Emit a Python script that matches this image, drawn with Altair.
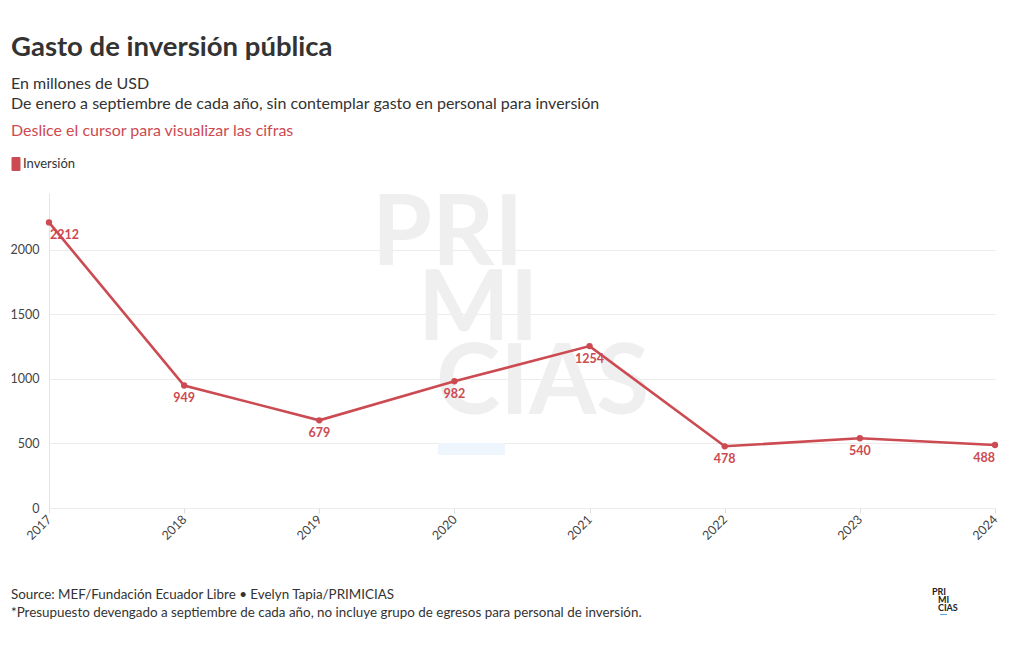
import altair as alt
import pandas as pd

years = ["2017", "2018", "2019", "2020", "2021", "2022", "2023", "2024"]
values = [2212, 949, 679, 982, 1254, 478, 540, 488]
series = "Inversión"
label_align = ["left", "center", "center", "center", "center", "center", "center", "right"]

RED = "#cc4a51"
FONT = "Lato"

df = pd.DataFrame({"year": years, "value": values, "serie": series, "align": label_align})

W, H = 946, 315

x = alt.X("year:O", scale=alt.Scale(type="point", padding=0), title=None,
          axis=alt.Axis(labelAngle=-45, labelAlign="right", labelBaseline="middle",
                        labelFontSize=12.5, labelColor="#444", labelFont=FONT,
                        domain=False, ticks=True, tickColor="#ddd", tickSize=5,
                        labelPadding=4, grid=False))
y = alt.Y("value:Q", scale=alt.Scale(domain=[0, 2440], nice=False), title=None,
          axis=alt.Axis(values=[0, 500, 1000, 1500, 2000], format="d", labelFontSize=12.5,
                        labelColor="#444", labelFont=FONT, gridColor="#ececec",
                        domainColor="#e4e4e4", ticks=False, labelPadding=10))

color = alt.Color("serie:N", scale=alt.Scale(range=[RED]), title=None,
                  legend=alt.Legend(orient="none", legendX=-40, legendY=-36,
                                    symbolType="M-0.64,-0.84Q-0.64,-1,-0.48,-1H0.48Q0.64,-1,0.64,-0.84V0.84Q0.64,1,0.48,1H-0.48Q-0.64,1,-0.64,0.84Z",
                                    symbolSize=196, symbolStrokeWidth=0,
                                    labelFontSize=13, labelColor="#333", labelFont=FONT,
                                    labelOffset=0))

def txt(text, px, py, size, color="#333", weight="normal", align="left", font=FONT):
    return alt.Chart(pd.DataFrame({"t": [text]})).mark_text(
        align=align, baseline="alphabetic", fontSize=size, color=color,
        fontWeight=weight, font=font
    ).encode(text="t:N", x=alt.value(px), y=alt.value(py))

wm_color = "#efefef"
watermark = [
    txt("PRI", 372 - 49, 265 - 193, 97, wm_color, "bold"),
    txt("MI", 418 - 49, 340 - 193, 97, wm_color, "bold"),
    txt("CIAS", 436 - 49, 414 - 193, 97, wm_color, "bold"),
]
wm_rect = alt.Chart(pd.DataFrame({"a": [0]})).mark_rect(color="#eef5fc").encode(
    x=alt.value(438 - 49), x2=alt.value(505 - 49), y=alt.value(443 - 193), y2=alt.value(455 - 193))

base = alt.Chart(df)
line = base.mark_line(strokeWidth=2.6, color=RED).encode(x=x, y=y, color=color)
pts = base.mark_point(filled=True, size=40, opacity=1, color=RED).encode(x=x, y=y, color=color)
label_layers = []
for a, dx in (("left", 1), ("center", 0), ("right", 0)):
    label_layers.append(
        base.transform_filter(alt.datum.align == a).mark_text(
            dy=13, dx=dx, align=a, fontWeight="bold", fontSize=12.5, font=FONT,
            baseline="middle", color=RED
        ).encode(x=x, y=y, text="value:Q")
    )

annot = [
    txt("Gasto de inversión pública", -38, 56 - 193, 27.5, "#333", "bold"),
    txt("En millones de USD", -38, 89 - 193, 16, "#333"),
    txt("De enero a septiembre de cada año, sin contemplar gasto en personal para inversión", -38, 109 - 193, 16, "#333"),
    txt("Deslice el cursor para visualizar las cifras", -38, 136 - 193, 16, RED),
    txt("Source: MEF/Fundación Ecuador Libre • Evelyn Tapia/PRIMICIAS", -38, 599 - 193, 13.4, "#333"),
    txt("*Presupuesto devengado a septiembre de cada año, no incluye grupo de egresos para personal de inversión.", -38, 617 - 193, 13.4, "#333"),
    txt("PRI", 932 - 49, 595 - 193, 9, "#222", "bold"),
    txt("MI", 938 - 49, 603 - 193, 9, "#222", "bold"),
    txt("CIAS", 938 - 49, 611 - 193, 9, "#222", "bold"),
]
logo_line = alt.Chart(pd.DataFrame({"a": [0]})).mark_rect(color="#5aa9e6").encode(
    x=alt.value(940 - 49), x2=alt.value(947 - 49), y=alt.value(614 - 193), y2=alt.value(615 - 193))

chart = alt.layer(*watermark, wm_rect, line, pts, *label_layers, *annot, logo_line).properties(
    width=W, height=H,
    autosize=alt.AutoSizeParams(type="none"),
    padding={"left": 41, "top": 185, "right": 17, "bottom": 134},
).configure(font=FONT).configure_view(strokeWidth=0, stroke=None)

chart.save("out.html", embed_options={"renderer": "svg", "actions": False})
